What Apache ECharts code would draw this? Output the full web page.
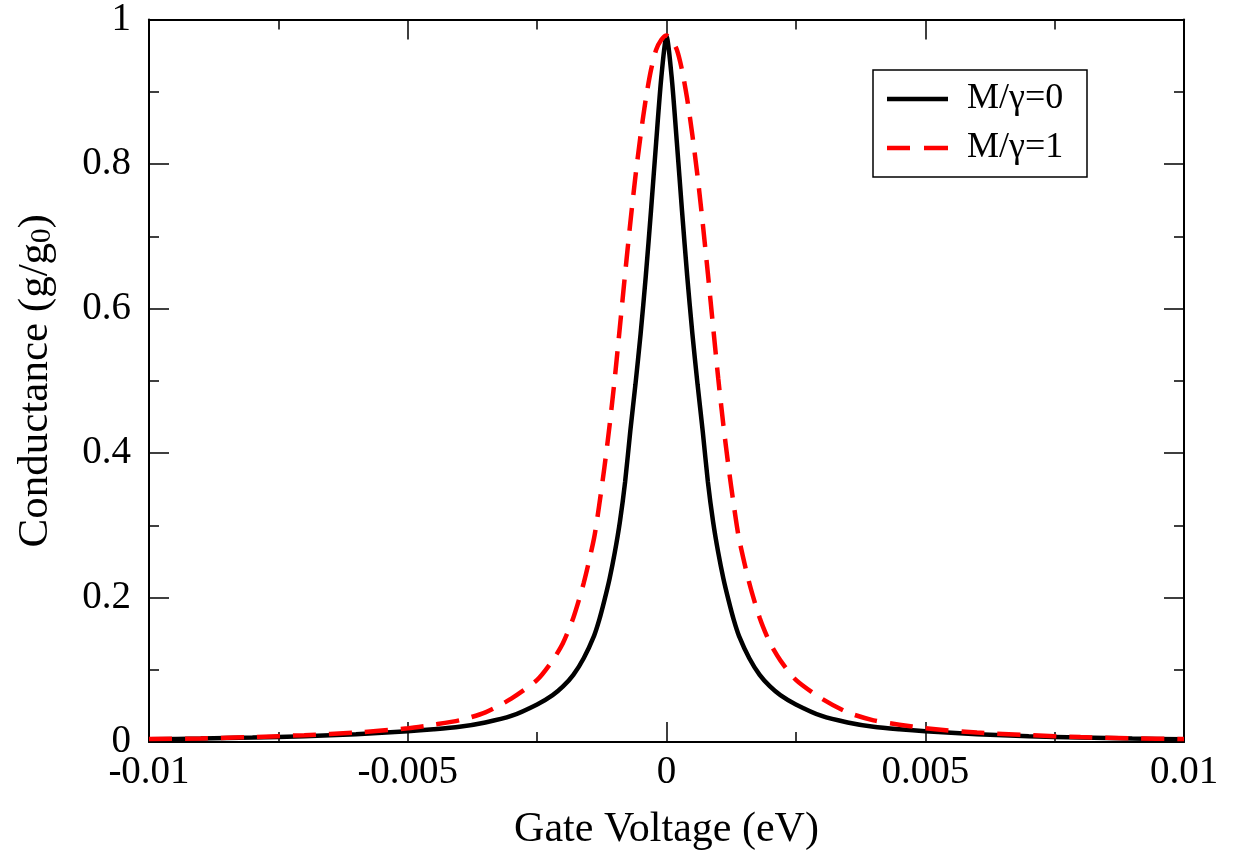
<!DOCTYPE html>
<html>
<head>
<meta charset="utf-8">
<script src="https://cdn.jsdelivr.net/npm/echarts@6/dist/echarts.min.js"></script>
<style>
html,body{margin:0;padding:0;background:#fff;}
#chart{width:1236px;height:856px;}
</style>
</head>
<body>
<div id="chart"></div>
<script>
// Gate voltage sample points (eV)
const gateVoltage = [-0.01,-0.009,-0.008,-0.007,-0.006,-0.005,-0.0045,-0.004,-0.0035,-0.003,-0.0025,-0.0022,-0.002,-0.0018,-0.0016,-0.0014,-0.0013,-0.0012,-0.0011,-0.001,-0.0009,-0.0008,-0.0007,-0.0006,-0.0005,-0.0004,-0.0003,-0.0002,-0.0001,0,
  0.0001,0.0002,0.0003,0.0004,0.0005,0.0006,0.0007,0.0008,0.0009,0.001,0.0011,0.0012,0.0013,0.0014,0.0016,0.0018,0.002,0.0022,0.0025,0.003,0.0035,0.004,0.0045,0.005,0.006,0.007,0.008,0.009,0.01];
// Conductance g/g0, M/gamma = 0 (black solid)
const conductanceM0 = [0.0037,0.0048,0.0062,0.008,0.0108,0.0148,0.0175,0.021,0.027,0.036,0.052,0.065,0.077,0.093,0.116,0.147,0.169,0.196,0.226,0.262,0.305,0.36,0.43,0.495,0.565,0.645,0.735,0.83,0.92,0.977,
  0.92,0.83,0.735,0.645,0.565,0.495,0.43,0.36,0.305,0.262,0.226,0.196,0.169,0.147,0.116,0.093,0.077,0.065,0.052,0.036,0.027,0.021,0.0175,0.0148,0.0108,0.008,0.0062,0.0048,0.0037];
// Conductance g/g0, M/gamma = 1 (red dashed)
const conductanceM1 = [0.004,0.005,0.0068,0.0095,0.013,0.019,0.024,0.03,0.041,0.06,0.086,0.113,0.137,0.172,0.22,0.282,0.328,0.38,0.438,0.503,0.575,0.648,0.718,0.783,0.84,0.89,0.93,0.958,0.972,0.978,
  0.972,0.958,0.93,0.89,0.84,0.783,0.718,0.648,0.575,0.503,0.438,0.38,0.328,0.282,0.22,0.172,0.137,0.113,0.086,0.06,0.041,0.03,0.024,0.019,0.013,0.0095,0.0068,0.005,0.004];
const seriesNames = ['M/\u03b3=0', 'M/\u03b3=1'];
const xTickLabels = ['-0.01', '-0.005', '0', '0.005', '0.01'];
const yTickLabels = ['0', '0.2', '0.4', '0.6', '0.8', '1'];

const FONT = '"Liberation Serif", "DejaVu Serif", serif';
const pairs = (ys) => gateVoltage.map((x, i) => [x, ys[i]]);

const xTickValues = xTickLabels.map(Number);
const yTickValues = yTickLabels.map(Number);
function xLabel(v) { const i = xTickValues.findIndex(t => Math.abs(t - v) < 1e-9); return i >= 0 ? xTickLabels[i] : ''; }
function yLabel(v) { const i = yTickValues.findIndex(t => Math.abs(t - v) < 1e-9); return i >= 0 ? yTickLabels[i] : ''; }

const axisLine = { show: true, onZero: false, lineStyle: { color: '#000', width: 2 } };
const axisTick = { show: true, inside: true, length: 20, lineStyle: { color: '#000', width: 1.5 } };
const minorTick = { show: true, splitNumber: 2, length: 10, lineStyle: { color: '#000', width: 1.5 } };

const SOLID_ICON = 'path://M0,0H61V4.5H0Z';
const DASH_ICON = 'path://M0,0H23V4.5H0Z M37,0H61V4.5H37Z';

const chart = echarts.init(document.getElementById('chart'), null, { renderer: 'canvas' });
chart.setOption({
  backgroundColor: '#fff',
  animation: false,
  grid: { left: 149, right: 52, top: 18, bottom: 114, containLabel: false },
  legend: {
    orient: 'vertical',
    left: 873, top: 70,
    padding: [11, 8, 11, 14],
    itemGap: 13,
    itemWidth: 61, itemHeight: 4.5,
    symbolKeepAspect: false,
    borderColor: '#000', borderWidth: 1.5,
    backgroundColor: '#fff',
    textStyle: { fontFamily: FONT, fontSize: 36, color: '#000', lineHeight: 36, width: 112, padding: [0, 0, 0, 14] },
    data: [
      { name: seriesNames[0], icon: SOLID_ICON, itemStyle: { color: '#000' } },
      { name: seriesNames[1], icon: DASH_ICON, itemStyle: { color: '#ff0000' } }
    ]
  },
  xAxis: [{
    type: 'value', min: -0.01, max: 0.01, interval: 0.005, position: 'bottom',
    axisLine, axisTick, minorTick, splitLine: { show: false },
    axisLabel: { formatter: xLabel, fontFamily: FONT, fontSize: 39, color: '#000', margin: 11 },
    name: 'Gate Voltage (eV)', nameLocation: 'middle', nameGap: 67,
    nameTextStyle: { fontFamily: FONT, fontSize: 42, color: '#000' }
  }, {
    type: 'value', min: -0.01, max: 0.01, interval: 0.005, position: 'top',
    axisLine, axisTick, minorTick, splitLine: { show: false }, axisLabel: { show: false }
  }],
  yAxis: [{
    type: 'value', min: 0, max: 1, interval: 0.2, position: 'left',
    axisLine, axisTick, minorTick, splitLine: { show: false },
    axisLabel: { formatter: yLabel, fontFamily: FONT, fontSize: 39, color: '#000', margin: 18 },
    name: 'Conductance (g/g{sub|0})', nameLocation: 'middle', nameGap: 92,
    nameTextStyle: { fontFamily: FONT, fontSize: 43, color: '#000',
      rich: { sub: { fontFamily: FONT, fontSize: 29, color: '#000', verticalAlign: 'bottom', padding: [14, 0, 0, 0] } } }
  }, {
    type: 'value', min: 0, max: 1, interval: 0.2, position: 'right',
    axisLine, axisTick, minorTick, splitLine: { show: false }, axisLabel: { show: false }
  }],
  series: [{
    name: seriesNames[0], type: 'line', data: pairs(conductanceM0),
    showSymbol: false, symbol: 'none', smooth: 0.25,
    lineStyle: { color: '#000', width: 4.5 }, itemStyle: { color: '#000' }, z: 2
  }, {
    name: seriesNames[1], type: 'line', data: pairs(conductanceM1),
    showSymbol: false, symbol: 'none', smooth: 0.25,
    lineStyle: { color: '#ff0000', width: 4.5, type: [23, 13] }, itemStyle: { color: '#ff0000' }, z: 3
  }]
});
</script>
</body>
</html>
